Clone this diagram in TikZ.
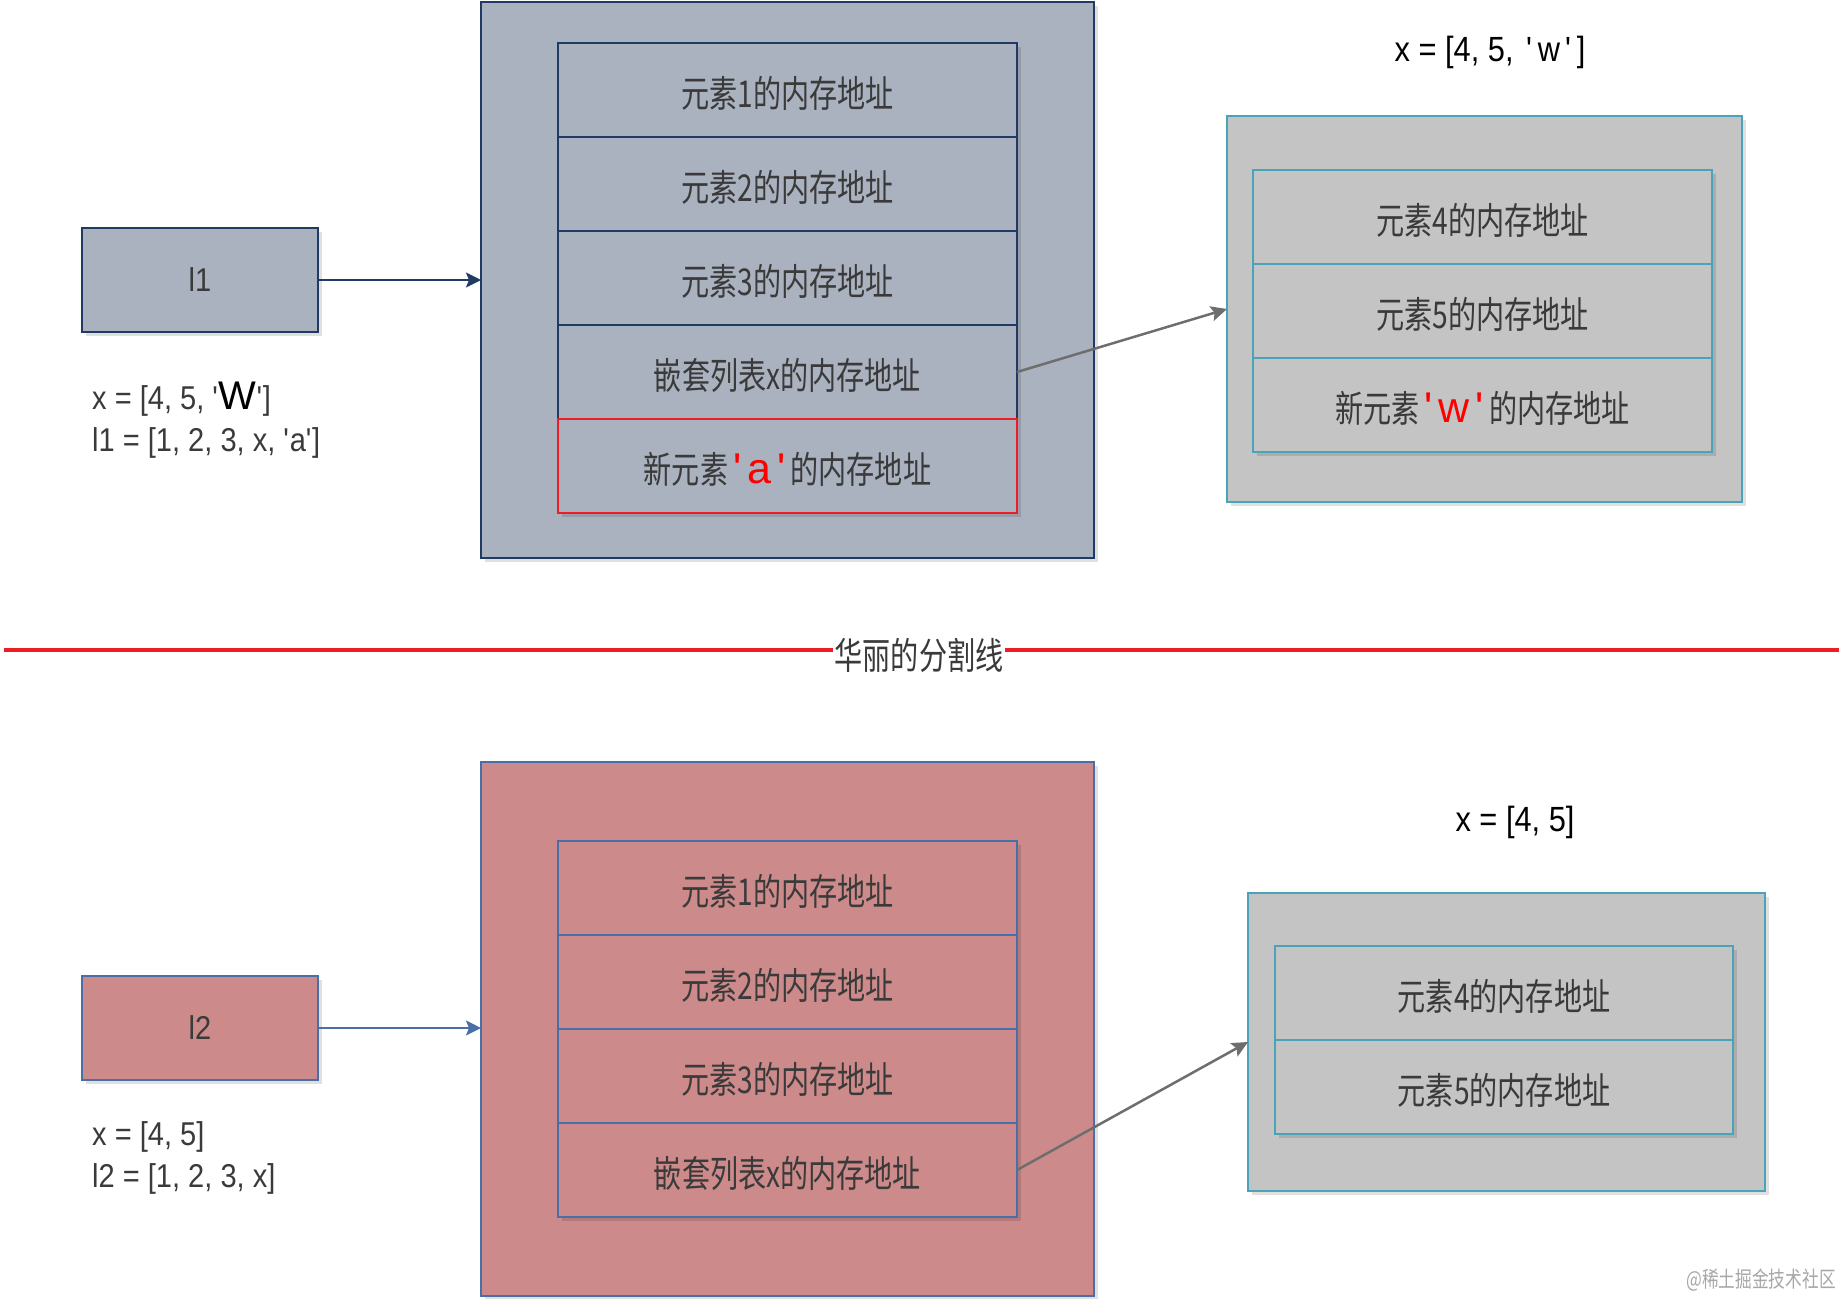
\documentclass[tikz,border=0pt]{standalone}
\usepackage{fontspec}
\setmainfont{Liberation Sans}[FakeStretch=0.88]
\newfontfamily\cjk{Noto Sans CJK SC}[FakeStretch=0.76]
\newfontfamily\lat{Liberation Sans}
\usetikzlibrary{arrows.meta,shadows}
\definecolor{topfill}{HTML}{AAB1BF}
\definecolor{navy}{HTML}{1F3A63}
\definecolor{rosefill}{HTML}{CD8A8A}
\definecolor{steel}{HTML}{4A6FA8}
\definecolor{greyfill}{HTML}{C4C4C4}
\definecolor{tealb}{HTML}{4AA3B8}
\definecolor{redline}{HTML}{EE1C25}
\definecolor{txt}{HTML}{3A3A3A}
\definecolor{arrowgrey}{HTML}{6E6E6E}
\definecolor{wm}{HTML}{A8A8A8}
\newcommand\cellfont{\cjk\fontsize{37}{40}\selectfont}
\newcommand\latfont{\fontsize{33}{36}\selectfont}
\newcommand\sq{\textquotesingle}
\newcommand\redq[1]{{\color{red}\lat\fontsize{43}{43}\selectfont\kern5pt\sq\kern6pt #1\kern6pt\sq\kern5pt}}
\tikzset{
  box/.style={rectangle, inner sep=0pt, outer sep=0pt, line width=2pt,
    drop shadow={shadow xshift=4pt, shadow yshift=-4pt, opacity=0.12, fill=black}},
  cell/.style={box, minimum width=459pt, minimum height=94pt, font=\cellfont, text=txt,
    text height=39pt, text depth=4pt},
  navyarrow/.style={draw=navy, line width=2pt, -{Stealth[length=15pt,width=15pt,inset=3pt]}},
  greyarrow/.style={draw=arrowgrey, line width=2.5pt, -{Stealth[length=16pt,width=15pt,inset=3pt]}},
  codetext/.style={font=\latfont, text=txt, inner sep=0pt, anchor=west},
}
\begin{document}
\begin{tikzpicture}[x=1pt,y=-1pt]
\fill[white] (0,0) rectangle (1841,1298);
\useasboundingbox (0,0) rectangle (1841,1298);

% ---------- top half ----------
\node[box, fill=topfill, draw=navy, minimum width=613pt, minimum height=556pt] (bigtop) at (787.5,280) {};
\node[box, fill=topfill, draw=navy, minimum width=236pt, minimum height=104pt, font=\latfont, text=txt] (l1) at (200,280) {l1};

\node[cell, fill=topfill, draw=navy] (t1) at (787.5,90) {元素1的内存地址};
\node[cell, fill=topfill, draw=navy] (t2) at (787.5,184) {元素2的内存地址};
\node[cell, fill=topfill, draw=navy] (t3) at (787.5,278) {元素3的内存地址};
\node[cell, fill=topfill, draw=navy] (t4) at (787.5,372) {嵌套列表x的内存地址};
\node[cell, fill=topfill, draw=redline] (t5) at (787.5,466) {新元素\redq{a}的内存地址};

\node[box, fill=greyfill, draw=tealb, minimum width=515pt, minimum height=386pt] (tr) at (1484.5,309) {};
\node[cell, fill=greyfill, draw=tealb] (r1) at (1482.5,217) {元素4的内存地址};
\node[cell, fill=greyfill, draw=tealb] (r2) at (1482.5,311) {元素5的内存地址};
\node[cell, fill=greyfill, draw=tealb] (r3) at (1482.5,405) {新元素\redq{w}的内存地址};

\node[font=\fontsize{35}{36}\selectfont, text=black, inner sep=0pt] (xtop) at (1490,52) {x = [4, 5, \kern4pt\sq\kern5pt w\kern5pt\sq\kern5pt]};

\node[codetext] (c1) at (92,399) {x = [4, 5, \sq{\color{black}\lat\fontsize{40}{40}\selectfont W}\sq]};
\node[codetext] (c2) at (92,443) {l1 = [1, 2, 3, x, \sq a\sq]};

\draw[navyarrow] (l1.east) -- (bigtop.west);
\draw[greyarrow] (t4.east) -- (tr.west);

% ---------- separator ----------
\coordinate (sepL) at (4,650);
\coordinate (sepR) at (1839,650);
\draw[redline, line width=4pt] (sepL) -- (sepR);
\node[fill=white, inner xsep=2pt, inner ysep=4pt, font=\cellfont, text=txt] (sep) at (919,655) {华丽的分割线};

% ---------- bottom half ----------
\node[box, fill=rosefill, draw=steel, minimum width=613pt, minimum height=534pt] (bigbot) at (787.5,1029) {};
\node[box, fill=rosefill, draw=steel, minimum width=236pt, minimum height=104pt, font=\latfont, text=txt] (l2) at (200,1028) {l2};

\node[cell, fill=rosefill, draw=steel] (b1) at (787.5,888) {元素1的内存地址};
\node[cell, fill=rosefill, draw=steel] (b2) at (787.5,982) {元素2的内存地址};
\node[cell, fill=rosefill, draw=steel] (b3) at (787.5,1076) {元素3的内存地址};
\node[cell, fill=rosefill, draw=steel] (b4) at (787.5,1170) {嵌套列表x的内存地址};

\node[box, fill=greyfill, draw=tealb, minimum width=517pt, minimum height=298pt] (br) at (1506.5,1042) {};
\node[cell, fill=greyfill, draw=tealb, minimum width=458pt] (s1) at (1504,993) {元素4的内存地址};
\node[cell, fill=greyfill, draw=tealb, minimum width=458pt] (s2) at (1504,1087) {元素5的内存地址};

\node[font=\fontsize{35}{36}\selectfont, text=black, inner sep=0pt] (xbot) at (1515,822) {x = [4, 5]};

\node[codetext] (d1) at (92,1137) {x = [4, 5]};
\node[codetext] (d2) at (92,1179) {l2 = [1, 2, 3, x]};

\draw[navyarrow, draw=steel] (l2.east) -- (l2.east -| bigbot.west);
\draw[greyarrow] (b4.east) -- (br.west);

% watermark
\node[font=\cjk\fontsize{22}{24}\selectfont, text=wm, anchor=east, inner sep=0pt] (wmk) at (1836,1280) {@稀土掘金技术社区};
\end{tikzpicture}
\end{document}
